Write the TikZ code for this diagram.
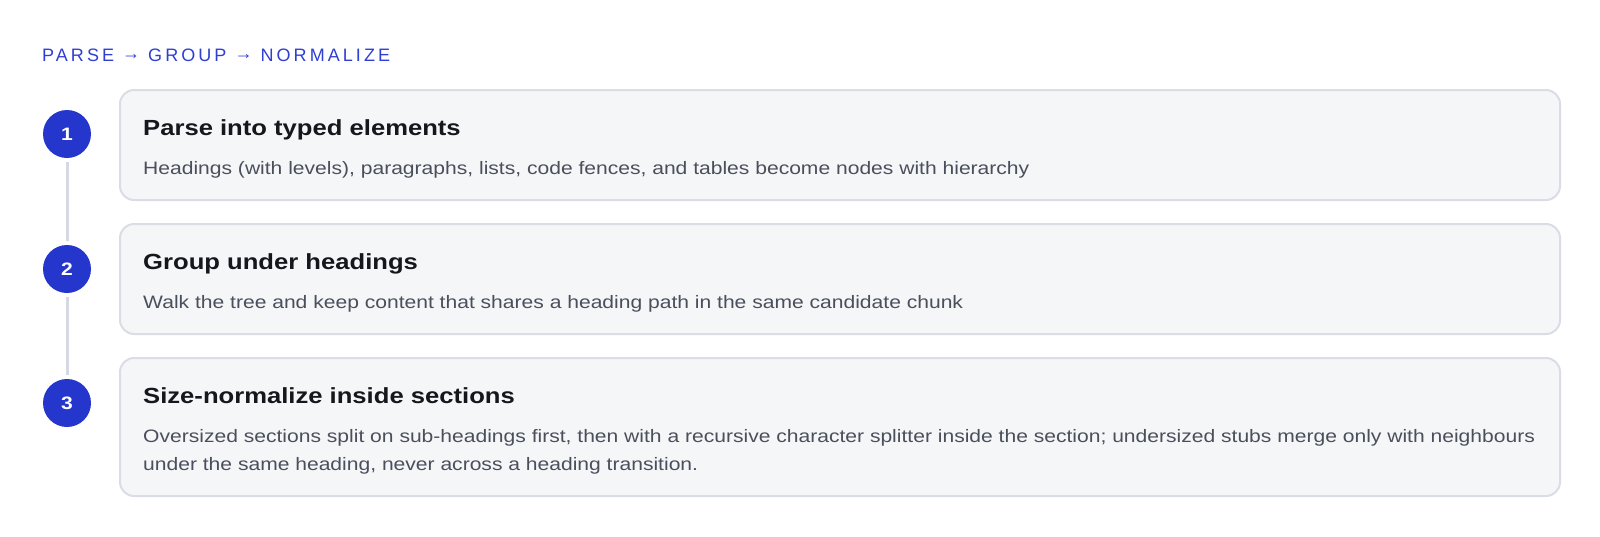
\documentclass[tikz,border=0pt]{standalone}
\usepackage{fontspec}
\setmainfont{Liberation Sans}
\newfontfamily\bodyfont[FakeStretch=1.17]{Liberation Sans}
\newfontfamily\titlefont[LetterSpace=17]{Liberation Sans}
\definecolor{titleblue}{HTML}{2F3FD4}
\definecolor{circblue}{HTML}{2536CC}
\definecolor{boxfill}{HTML}{F5F6F8}
\definecolor{boxline}{HTML}{DADDE5}
\definecolor{connline}{HTML}{D6D9E2}
\definecolor{headcol}{HTML}{15171C}
\definecolor{bodycol}{HTML}{4A4F5C}
\newcommand{\tarrow}{\raisebox{1.5pt}{→}}
\tikzset{
  stepbox/.style={draw=boxline, line width=2pt, fill=boxfill, rounded corners=14pt,
    anchor=north west, minimum width=1440pt, inner sep=0pt},
  stepcirc/.style={circle, fill=circblue, minimum size=48pt, inner sep=0pt,
    text=white, font=\bodyfont\bfseries\fontsize{18}{20}\selectfont},
  conn/.style={draw=connline, line width=3pt},
  headtxt/.style={anchor=base west, inner sep=0pt, text=headcol,
    font=\bodyfont\bfseries\fontsize{21.9}{26}\selectfont},
  bodytxt/.style={anchor=base west, inner sep=0pt, text=bodycol,
    font=\bodyfont\fontsize{18}{28}\selectfont},
  titletxt/.style={anchor=base west, inner sep=0pt, text=titleblue,
    font=\titlefont\fontsize{18}{22}\selectfont}
}
\begin{document}
\begin{tikzpicture}[x=1pt,y=-1pt]
\useasboundingbox (0,0) rectangle (1600,536);
\fill[white] (0,0) rectangle (1600,536);
\node[titletxt] (title) at (42,61) {PARSE \tarrow{} GROUP \tarrow{} NORMALIZE};
% boxes
\node[stepbox, minimum height=110pt] (b1) at (119,89) {};
\node[stepbox, minimum height=110pt] (b2) at (119,223) {};
\node[stepbox, minimum height=138pt] (b3) at (119,357) {};
% circles
\node[stepcirc] (c1) at (67,134) {1};
\node[stepcirc] (c2) at (67,269) {2};
\node[stepcirc] (c3) at (67,403) {3};
\draw[conn] ([yshift=-4pt]c1.south) -- ([yshift=4pt]c2.north);
\draw[conn] ([yshift=-4pt]c2.south) -- ([yshift=4pt]c3.north);
% texts
\node[headtxt] (h1) at (143,135) {Parse into typed elements};
\node[bodytxt] (t1) at (143,174) {Headings (with levels), paragraphs, lists, code fences, and tables become nodes with hierarchy};
\node[headtxt] (h2) at (143,269) {Group under headings};
\node[bodytxt] (t2) at (143,308) {Walk the tree and keep content that shares a heading path in the same candidate chunk};
\node[headtxt] (h3) at (143,403) {Size-normalize inside sections};
\node[bodytxt] (t3) at (143,442) {Oversized sections split on sub-headings first, then with a recursive character splitter inside the section; undersized stubs merge only with neighbours};
\node[bodytxt] (t3b) at (143,470) {under the same heading, never across a heading transition.};
\end{tikzpicture}
\end{document}
